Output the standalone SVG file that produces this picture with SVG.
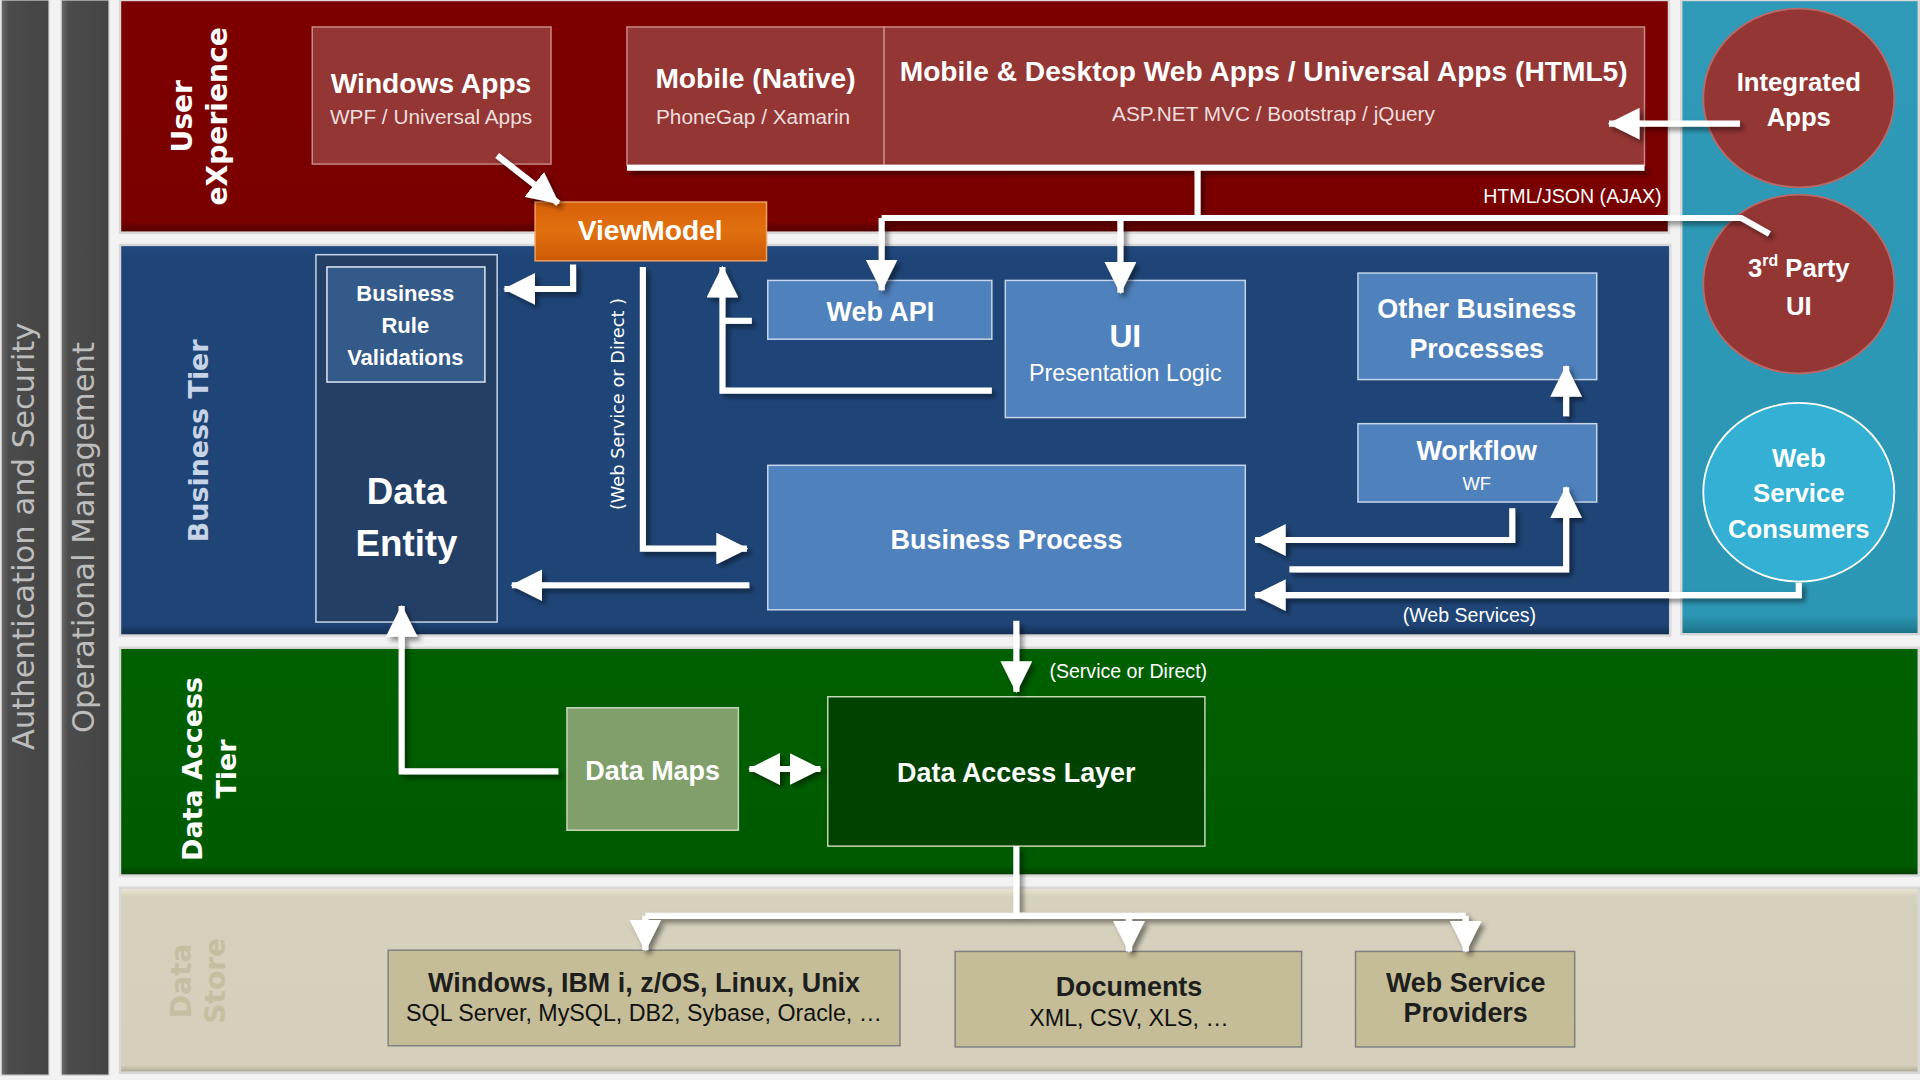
<svg xmlns="http://www.w3.org/2000/svg" width="1920" height="1080" viewBox="0 0 1920 1080">
<defs>
<style>
.c{font-family:"Liberation Sans Narrow","Liberation Sans",Arial,sans-serif;}
.v{font-family:"DejaVu Sans",Verdana,sans-serif;}
.b{font-weight:bold;}
.w{fill:#ffffff;}
.box{stroke:#c9d6ea;stroke-width:1.2;}
.ln{fill:none;stroke:#ffffff;stroke-width:5;stroke-linejoin:miter;}
.la{fill:none;stroke:#ffffff;stroke-width:5;marker-end:url(#ah);}
</style>
<marker id="ah" markerUnits="userSpaceOnUse" markerWidth="26" markerHeight="26" viewBox="0 0 26 26" refX="25" refY="13" orient="auto">
<path d="M0,0 L26,13 L0,26 z" fill="#ffffff"/>
</marker>
<marker id="as" markerUnits="userSpaceOnUse" markerWidth="26" markerHeight="26" viewBox="0 0 26 26" refX="1" refY="13" orient="auto">
<path d="M26,0 L0,13 L26,26 z" fill="#ffffff"/>
</marker>
<linearGradient id="gbar" x1="0" y1="0" x2="1" y2="0">
<stop offset="0" stop-color="#6a6a6a"/><stop offset="0.15" stop-color="#4c4c4c"/><stop offset="1" stop-color="#444444"/>
</linearGradient>
<linearGradient id="gred" x1="0" y1="0" x2="0" y2="1">
<stop offset="0" stop-color="#7d0000"/><stop offset="0.95" stop-color="#7a0000"/><stop offset="1" stop-color="#4e0000"/>
</linearGradient>
<linearGradient id="gblue" x1="0" y1="0" x2="0" y2="1">
<stop offset="0" stop-color="#224a80"/><stop offset="0.03" stop-color="#1f4578"/><stop offset="0.97" stop-color="#1f4577"/><stop offset="1" stop-color="#142d50"/>
</linearGradient>
<linearGradient id="ggreen" x1="0" y1="0" x2="0" y2="1">
<stop offset="0" stop-color="#006000"/><stop offset="0.96" stop-color="#005a00"/><stop offset="1" stop-color="#003c00"/>
</linearGradient>
<linearGradient id="gbeige" x1="0" y1="0" x2="0" y2="1">
<stop offset="0" stop-color="#ebe6d3"/><stop offset="0.05" stop-color="#d6d1bd"/><stop offset="0.96" stop-color="#d5cfbb"/><stop offset="1" stop-color="#a9a48f"/>
</linearGradient>
<linearGradient id="gcyan" x1="0" y1="0" x2="0" y2="1">
<stop offset="0" stop-color="#2e9ab8"/><stop offset="0.97" stop-color="#2c97b5"/><stop offset="1" stop-color="#1d6f86"/>
</linearGradient>
<linearGradient id="gorange" x1="0" y1="0" x2="0" y2="1">
<stop offset="0" stop-color="#d96008"/><stop offset="0.5" stop-color="#e0700f"/><stop offset="1" stop-color="#cc5a06"/>
</linearGradient>
<filter id="sh" x="-10%" y="-10%" width="130%" height="130%">
<feDropShadow dx="3" dy="3" stdDeviation="2" flood-color="#000000" flood-opacity="0.45"/>
</filter>
</defs>
<rect x="0" y="0" width="1920" height="1080" fill="#e8e8e8"/>
<g transform="scale(1.22449)">
<g id="bands">
<rect x="0" y="0" width="1568" height="882" fill="#f2f2f2"/>
<rect x="1" y="0" width="39" height="878" fill="url(#gbar)" stroke="#d0d0d0" stroke-width="1"/>
<rect x="50" y="0" width="39" height="878" fill="url(#gbar)" stroke="#d0d0d0" stroke-width="1"/>
<rect x="98" y="0" width="1265" height="190" fill="url(#gred)" stroke="#d8d8d8" stroke-width="2"/>
<rect x="1373" y="0" width="194" height="518" fill="url(#gcyan)" stroke="#d8d8d8" stroke-width="2"/>
<rect x="98" y="200" width="1266" height="319" fill="url(#gblue)" stroke="#d8d8d8" stroke-width="2"/>
<rect x="98" y="529" width="1469" height="186" fill="url(#ggreen)" stroke="#d8d8d8" stroke-width="2"/>
<rect x="98" y="725" width="1469" height="151" fill="url(#gbeige)" stroke="#d8d8d8" stroke-width="2"/>
</g>
<g id="labels">
<text class="v" transform="translate(28,438) rotate(-90)" text-anchor="middle" font-size="25" fill="#bdbdbd">Authentication and Security</text>
<text class="v" transform="translate(77,439) rotate(-90)" text-anchor="middle" font-size="25" fill="#bdbdbd">Operational Management</text>
<text class="v b w" transform="translate(157,95) rotate(-90)" text-anchor="middle" font-size="23">User</text>
<text class="v b w" transform="translate(185,95) rotate(-90)" text-anchor="middle" font-size="23">eXperience</text>
<text class="v b" transform="translate(170,360) rotate(-90)" text-anchor="middle" font-size="22" fill="#c7d3e6">Business Tier</text>
<text class="v b w" transform="translate(165,628) rotate(-90)" text-anchor="middle" font-size="22">Data Access</text>
<text class="v b w" transform="translate(193,628) rotate(-90)" text-anchor="middle" font-size="22">Tier</text>
<text class="v b" transform="translate(156,801) rotate(-90)" text-anchor="middle" font-size="23" fill="#c5bfa2">Data</text>
<text class="v b" transform="translate(184,801) rotate(-90)" text-anchor="middle" font-size="23" fill="#c5bfa2">Store</text>
<text class="c" x="1357" y="166" text-anchor="end" font-size="16" fill="#ffffff">HTML/JSON (AJAX)</text>
<text class="v" transform="translate(510,330) rotate(-90)" text-anchor="middle" font-size="14.5" fill="#ffffff">(Web  Service or Direct )</text>
<text class="c" x="1200" y="508" text-anchor="middle" font-size="16" fill="#ffffff">(Web Services)</text>
<text class="c" x="857" y="554" font-size="16" fill="#ffffff">(Service or Direct)</text>
</g>
<g id="windows-apps">
<rect x="255" y="22" width="195" height="112" fill="#943634" stroke="#c98a88" stroke-width="1.2"/>
<text class="c b w" x="352" y="76" text-anchor="middle" font-size="23">Windows Apps</text>
<text class="c" x="352" y="101" text-anchor="middle" font-size="17" fill="#f0dede">WPF / Universal Apps</text>
</g>
<g id="mobile-native">
<rect x="512" y="22" width="210" height="113" fill="#943634" stroke="#c98a88" stroke-width="1.2"/>
<text class="c b w" x="617" y="72" text-anchor="middle" font-size="23">Mobile (Native)</text>
<text class="c" x="615" y="101" text-anchor="middle" font-size="17" fill="#f0dede">PhoneGap / Xamarin</text>
</g>
<g id="web-apps">
<rect x="722" y="22" width="621" height="113" fill="#943634" stroke="#c98a88" stroke-width="1.2"/>
<text class="c b w" x="1032" y="66" text-anchor="middle" font-size="23">Mobile &amp; Desktop Web Apps / Universal Apps (HTML5)</text>
<text class="c" x="1040" y="99" text-anchor="middle" font-size="17" fill="#f0dede">ASP.NET MVC / Bootstrap / jQuery</text>
</g>
<g id="viewmodel">
<rect x="437" y="165" width="189" height="48" fill="url(#gorange)" stroke="#f2a060" stroke-width="1.2"/>
<text class="c b w" x="531" y="196" text-anchor="middle" font-size="23">ViewModel</text>
</g>
<g id="integrated-apps">
<ellipse cx="1469" cy="80" rx="78" ry="73" fill="#943634" stroke="#b86a68" stroke-width="1.5"/>
<text class="c b w" x="1469" y="74" text-anchor="middle" font-size="21">Integrated</text>
<text class="c b w" x="1469" y="103" text-anchor="middle" font-size="21">Apps</text>
</g>
<g id="third-party-ui">
<ellipse cx="1469" cy="232" rx="78" ry="73" fill="#943634" stroke="#b86a68" stroke-width="1.5"/>
<text class="c b w" x="1469" y="226" text-anchor="middle" font-size="21">3<tspan font-size="13" dy="-9">rd</tspan><tspan dy="9"> Party</tspan></text>
<text class="c b w" x="1469" y="257" text-anchor="middle" font-size="21">UI</text>
</g>
<g id="web-service-consumers">
<ellipse cx="1469" cy="402" rx="78" ry="73" fill="#33b0d3" stroke="#ffffff" stroke-width="1.5"/>
<text class="c b w" x="1469" y="381" text-anchor="middle" font-size="21">Web</text>
<text class="c b w" x="1469" y="410" text-anchor="middle" font-size="21">Service</text>
<text class="c b w" x="1469" y="439" text-anchor="middle" font-size="21">Consumers</text>
</g>
<g id="data-entity">
<rect x="258" y="208" width="148" height="300" fill="#243f66" stroke="#c9d6ea" stroke-width="1.2"/>
<text class="c b w" x="332" y="412" text-anchor="middle" font-size="30">Data</text>
<text class="c b w" x="332" y="454" text-anchor="middle" font-size="30">Entity</text>
</g>
<g id="business-rule-validations">
<rect x="267" y="218" width="129" height="94" fill="#345a8a" stroke="#e0e8f4" stroke-width="1.2"/>
<text class="c b w" x="331" y="246" text-anchor="middle" font-size="18">Business</text>
<text class="c b w" x="331" y="272" text-anchor="middle" font-size="18">Rule</text>
<text class="c b w" x="331" y="298" text-anchor="middle" font-size="18">Validations</text>
</g>
<g id="web-api">
<rect x="627" y="229" width="183" height="48" fill="#4f81bd" class="box"/>
<text class="c b w" x="719" y="262" text-anchor="middle" font-size="22">Web API</text>
</g>
<g id="ui">
<rect x="821" y="229" width="196" height="112" fill="#4f81bd" class="box"/>
<text class="c b w" x="919" y="283" text-anchor="middle" font-size="26">UI</text>
<text class="c" x="919" y="311" text-anchor="middle" font-size="19" fill="#ffffff">Presentation Logic</text>
</g>
<g id="other-business-processes">
<rect x="1109" y="223" width="195" height="87" fill="#4f81bd" class="box"/>
<text class="c b w" x="1206" y="260" text-anchor="middle" font-size="22">Other Business</text>
<text class="c b w" x="1206" y="292" text-anchor="middle" font-size="22">Processes</text>
</g>
<g id="workflow">
<rect x="1109" y="346" width="195" height="64" fill="#4f81bd" class="box"/>
<text class="c b w" x="1206" y="376" text-anchor="middle" font-size="22">Workflow</text>
<text class="c" x="1206" y="400" text-anchor="middle" font-size="15" fill="#ffffff">WF</text>
</g>
<g id="business-process">
<rect x="627" y="380" width="390" height="118" fill="#4f81bd" class="box"/>
<text class="c b w" x="822" y="448" text-anchor="middle" font-size="22">Business Process</text>
</g>
<g id="data-maps">
<rect x="463" y="578" width="140" height="100" fill="#809f6b" stroke="#c8d8bc" stroke-width="1.2"/>
<text class="c b w" x="533" y="637" text-anchor="middle" font-size="22">Data Maps</text>
</g>
<g id="data-access-layer">
<rect x="676" y="569" width="308" height="122" fill="#004200" stroke="#c8d8bc" stroke-width="1.2"/>
<text class="c b w" x="830" y="639" text-anchor="middle" font-size="22">Data Access Layer</text>
</g>
<g id="os-databases">
<rect x="317" y="776" width="418" height="78" fill="#c4bd97" stroke="#7f7f7f" stroke-width="1.2"/>
<text class="c b" x="526" y="810" text-anchor="middle" font-size="22" fill="#1e1e1e">Windows, IBM i, z/OS, Linux, Unix</text>
<text class="c" x="526" y="834" text-anchor="middle" font-size="19" fill="#111111">SQL Server, MySQL, DB2, Sybase, Oracle, …</text>
</g>
<g id="documents">
<rect x="780" y="777" width="283" height="78" fill="#c4bd97" stroke="#7f7f7f" stroke-width="1.2"/>
<text class="c b" x="922" y="813" text-anchor="middle" font-size="22" fill="#1e1e1e">Documents</text>
<text class="c" x="922" y="838" text-anchor="middle" font-size="19" fill="#111111">XML, CSV, XLS, …</text>
</g>
<g id="web-service-providers">
<rect x="1107" y="777" width="179" height="78" fill="#c4bd97" stroke="#7f7f7f" stroke-width="1.2"/>
<text class="c b" x="1197" y="810" text-anchor="middle" font-size="22" fill="#1e1e1e">Web Service</text>
<text class="c b" x="1197" y="835" text-anchor="middle" font-size="22" fill="#1e1e1e">Providers</text>
</g>
<g id="connectors" filter="url(#sh)">
<line class="la" x1="406" y1="127" x2="456" y2="166"/>
<line class="la" x1="1421" y1="101" x2="1314" y2="101"/>
<path class="ln" d="M512,137 H1343"/>
<path class="ln" d="M978,137 V178"/>
<path class="ln" d="M720,178 H1422 L1445,191"/>
<path class="la" d="M720,178 V237"/>
<path class="la" d="M915,178 V239"/>
<path class="la" d="M468,216 V236 H412"/>
<path class="la" d="M525,218 V448 H610"/>
<path class="la" d="M810,319 H590 V218"/>
<path class="ln" d="M614,262 H590"/>
<path class="la" d="M1279,340 V299"/>
<path class="la" d="M1235,415 V441 H1025"/>
<path class="la" d="M1053,465 H1279 V398"/>
<path class="la" d="M1469,476 V486 H1025"/>
<path class="la" d="M612,478 H418"/>
<path class="la" d="M830,507 V565"/>
<path class="la" d="M456,630 H328 V495"/>
<line x1="612" y1="628" x2="670" y2="628" stroke="#ffffff" stroke-width="5" marker-start="url(#as)" marker-end="url(#ah)"/>
<path class="ln" d="M830,691 V748"/>
<path class="ln" d="M527,748 H1197"/>
<path class="la" d="M527,748 V776"/>
<path class="la" d="M922,748 V777"/>
<path class="la" d="M1197,748 V777"/>
</g>
</g>
</svg>
